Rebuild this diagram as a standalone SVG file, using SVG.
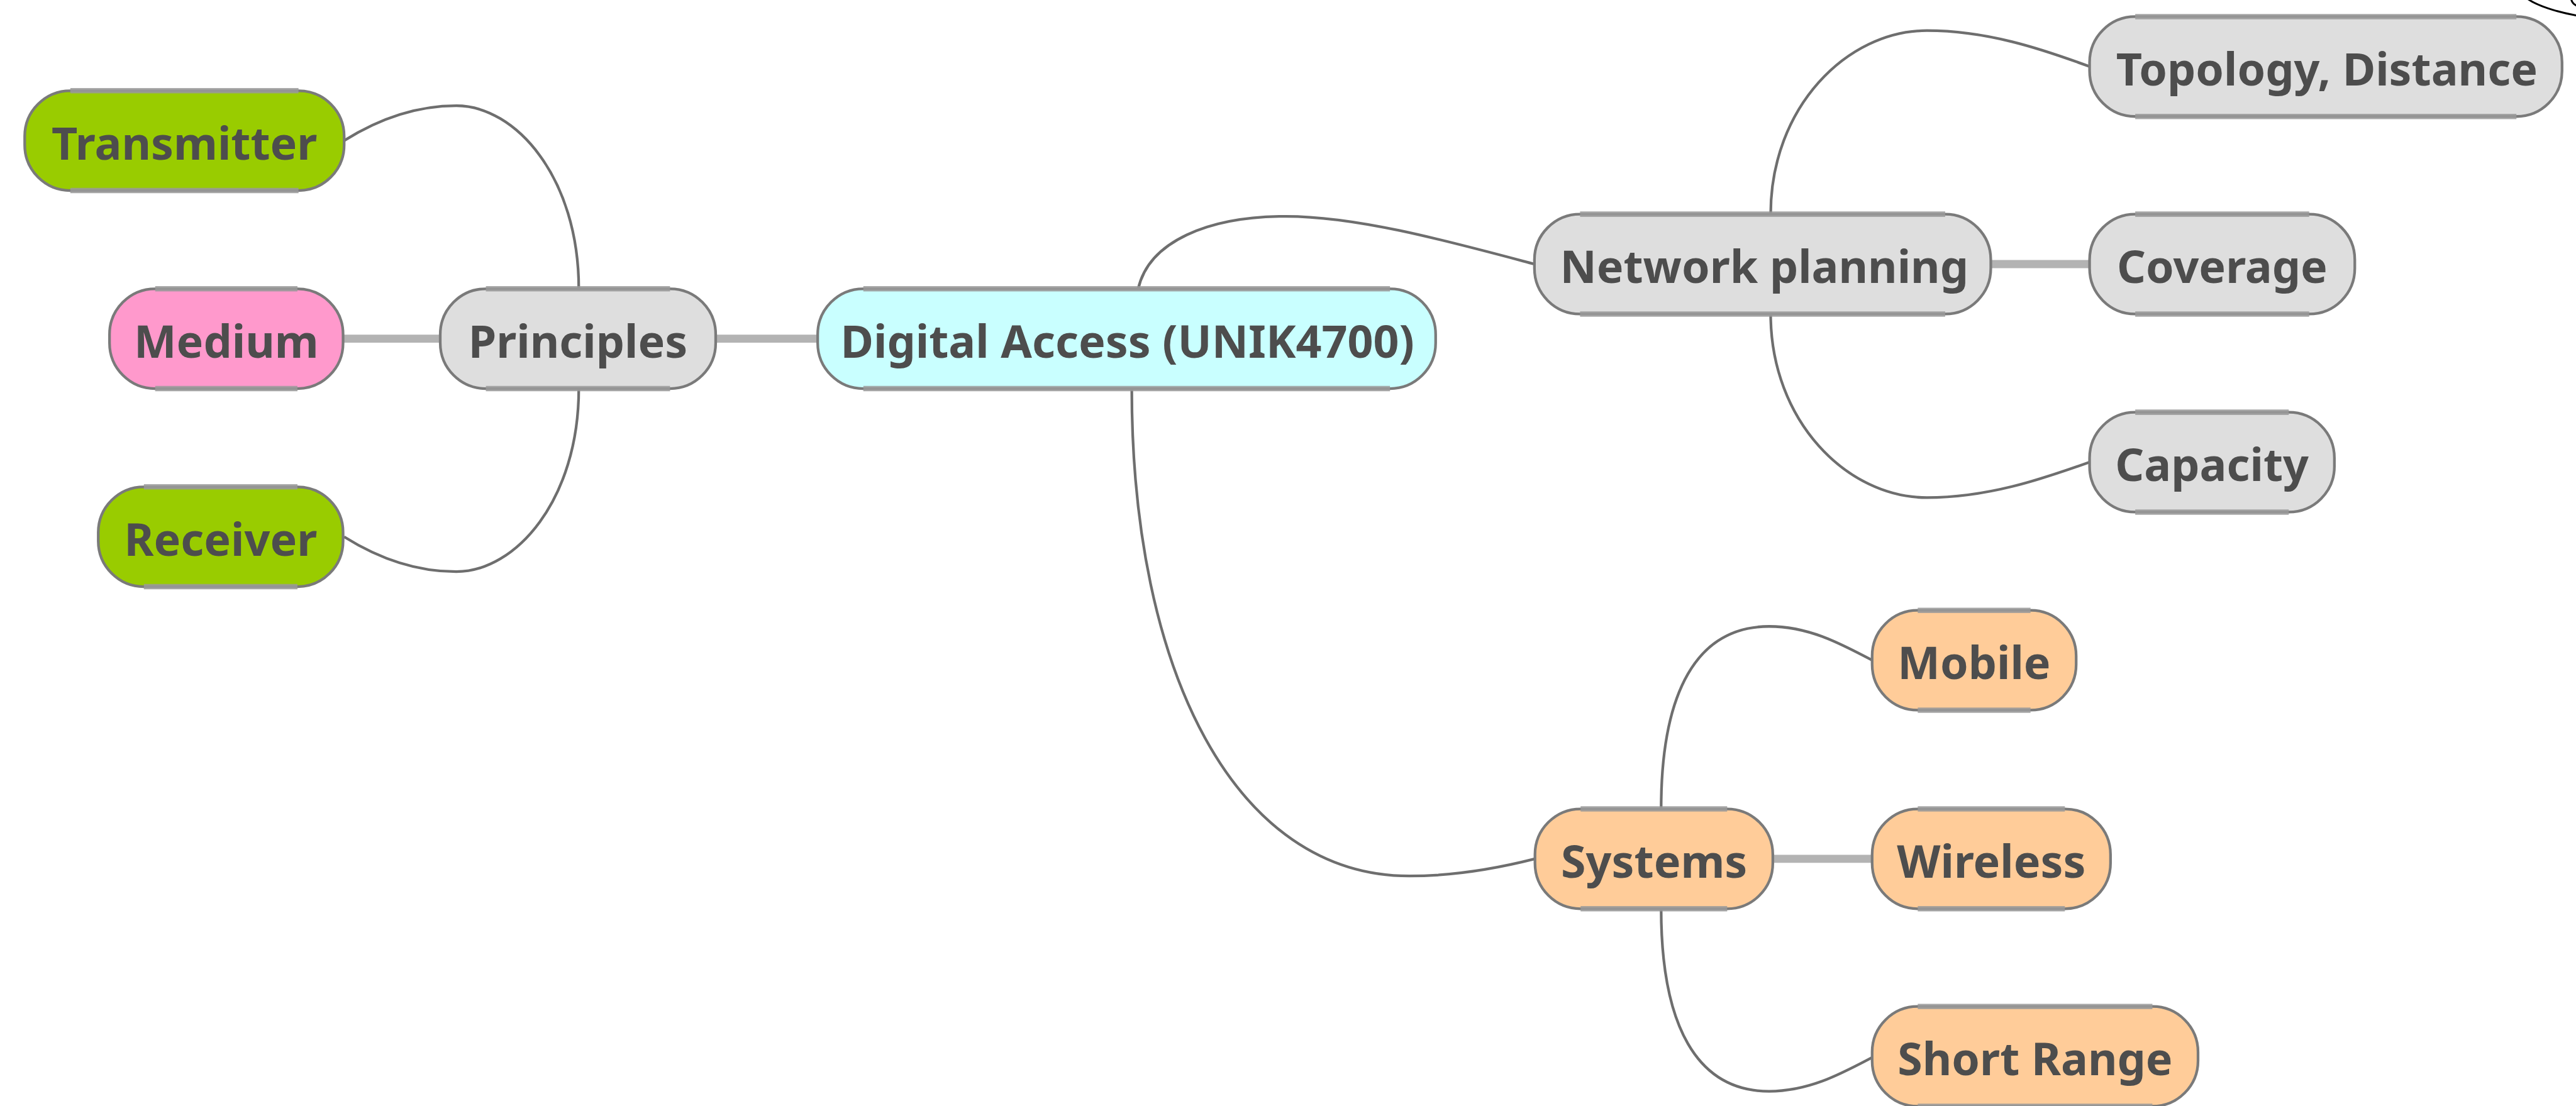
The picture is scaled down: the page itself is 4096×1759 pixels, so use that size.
<svg xmlns="http://www.w3.org/2000/svg" width="4096" height="1759" viewBox="0 0 4096 1759">
  <style>
    .node rect { stroke: #7a7a7a; stroke-width: 5; }
    .node .band { stroke: #9a9a9a; stroke-width: 10; fill: none; opacity: 0.85; }
    .node text { font-family: "Noto Sans", "Open Sans", "DejaVu Sans", sans-serif; font-weight: 700; font-size: 84px; fill: #4d4d4d; text-anchor: middle; }
    .green rect { fill: #99cc00; }
    .pink rect { fill: #ff99cc; }
    .grey rect { fill: #dedede; }
    .cyan rect { fill: #c9ffff; }
    .peach rect { fill: #ffcc99; }
    .link { fill: none; stroke: #6e6e6e; stroke-width: 5; }
    .trunk { fill: none; stroke: #b3b3b3; stroke-width: 15; }
    .corner { fill: none; stroke: #000000; stroke-width: 3.5; }
  </style>
  <rect width="4096" height="1759" fill="#ffffff"/>
  <g transform="scale(0.85369)">
    <!-- connectors -->
    <g id="connectors">
      <path class="trunk" d="M639,631 H820"/>
      <path class="trunk" d="M1333,631 H1523"/>
      <path class="trunk" d="M3708,492 H3892"/>
      <path class="trunk" d="M3302,1600 H3487"/>
      <path class="link" d="M1078,538 C1078,330 960,197 850,197 C770,197 700,225 641,262"/>
      <path class="link" d="M1078,724 C1078,932 960,1065 850,1065 C770,1065 700,1037 641,1000"/>
      <path class="link" d="M2120,538 C2140,450 2250,403 2395,403 C2530,403 2700,450 2858,492"/>
      <path class="link" d="M2108,724 C2108,1250 2300,1632 2625,1632 C2720,1632 2800,1615 2859,1600"/>
      <path class="link" d="M3298,399 C3298,200 3440,57 3589,57 C3700,57 3800,90 3892,124"/>
      <path class="link" d="M3298,585 C3298,784 3440,927 3589,927 C3700,927 3800,894 3892,861"/>
      <path class="link" d="M3094,1507 C3094,1290 3160,1167 3295,1167 C3370,1167 3430,1200 3487,1230"/>
      <path class="link" d="M3094,1693 C3094,1910 3160,2033 3295,2033 C3370,2033 3430,2000 3487,1970"/>
    </g>

    <!-- nodes -->
    <g id="transmitter" class="node green">
      <rect x="46" y="169" width="595" height="186" rx="85"/>
      <path class="band" d="M131,169 H556 M131,355 H556"/>
      <text x="343.5" y="297">Transmitter</text>
    </g>
    <g id="medium" class="node pink">
      <rect x="204" y="538" width="435" height="186" rx="85"/>
      <path class="band" d="M289,538 H554 M289,724 H554"/>
      <text x="421.5" y="666">Medium</text>
    </g>
    <g id="receiver" class="node green">
      <rect x="183" y="907" width="456" height="186" rx="85"/>
      <path class="band" d="M268,907 H554 M268,1093 H554"/>
      <text x="411" y="1035">Receiver</text>
    </g>
    <g id="principles" class="node grey">
      <rect x="820" y="538" width="513" height="186" rx="85"/>
      <path class="band" d="M905,538 H1248 M905,724 H1248"/>
      <text x="1076.5" y="666">Principles</text>
    </g>
    <g id="digital-access" class="node cyan">
      <rect x="1523" y="538" width="1151" height="186" rx="85"/>
      <path class="band" d="M1608,538 H2589 M1608,724 H2589"/>
      <text x="2100" y="666">Digital Access (UNIK4700)</text>
    </g>
    <g id="network-planning" class="node grey">
      <rect x="2858" y="399" width="850" height="186" rx="85"/>
      <path class="band" d="M2943,399 H3623 M2943,585 H3623"/>
      <text x="3286" y="527">Network planning</text>
    </g>
    <g id="topology-distance" class="node grey">
      <rect x="3892" y="31" width="880" height="186" rx="85"/>
      <path class="band" d="M3977,31 H4687 M3977,217 H4687"/>
      <text x="4334" y="159">Topology, Distance</text>
    </g>
    <g id="coverage" class="node grey">
      <rect x="3892" y="399" width="494" height="186" rx="85"/>
      <path class="band" d="M3977,399 H4301 M3977,585 H4301"/>
      <text x="4139" y="527">Coverage</text>
    </g>
    <g id="capacity" class="node grey">
      <rect x="3892" y="768" width="456" height="186" rx="85"/>
      <path class="band" d="M3977,768 H4263 M3977,954 H4263"/>
      <text x="4120" y="896">Capacity</text>
    </g>
    <g id="systems" class="node peach">
      <rect x="2859" y="1507" width="443" height="186" rx="85"/>
      <path class="band" d="M2944,1507 H3217 M2944,1693 H3217"/>
      <text x="3081" y="1635">Systems</text>
    </g>
    <g id="mobile" class="node peach">
      <rect x="3487" y="1137" width="380" height="186" rx="85"/>
      <path class="band" d="M3572,1137 H3782 M3572,1323 H3782"/>
      <text x="3677" y="1265">Mobile</text>
    </g>
    <g id="wireless" class="node peach">
      <rect x="3487" y="1507" width="444" height="186" rx="85"/>
      <path class="band" d="M3572,1507 H3846 M3572,1693 H3846"/>
      <text x="3709" y="1635">Wireless</text>
    </g>
    <g id="short-range" class="node peach">
      <rect x="3487" y="1875" width="607" height="186" rx="85"/>
      <path class="band" d="M3572,1875 H4009 M3572,2061 H4009"/>
      <text x="3790.5" y="2003">Short Range</text>
    </g>

    <!-- outline cut by the top-right edge -->
    <path class="corner" d="M4708,-2 C4725,10 4760,22 4800,29"/>
    <path class="corner" d="M4789,-2 C4790,4 4793,8 4800,11"/>
  </g>
</svg>
